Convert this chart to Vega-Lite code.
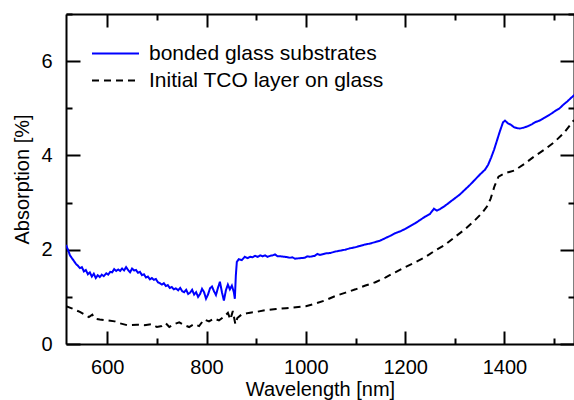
{
  "$schema": "https://vega.github.io/schema/vega-lite/v6.json",
  "width": 508,
  "height": 330,
  "autosize": {"type": "none"},
  "padding": {"left": 66, "top": 14, "right": 0, "bottom": 56},
  "background": "white",
  "config": {
    "view": {"stroke": null},
    "font": "Liberation Sans",
    "axis": {
      "grid": false,
      "domainColor": "black",
      "domainWidth": 2,
      "tickColor": "black",
      "tickWidth": 2,
      "labelFont": "Liberation Sans",
      "labelFontSize": 20,
      "labelColor": "black",
      "titleFont": "Liberation Sans",
      "titleFontSize": 20,
      "titleFontWeight": "normal",
      "titleColor": "black"
    }
  },
  "data": {
    "values": [
      {"nm": 517, "a": 2.10, "s": "bonded"}, {"nm": 521, "a": 2.00, "s": "bonded"}, {"nm": 525, "a": 1.88, "s": "bonded"}, {"nm": 529, "a": 1.82, "s": "bonded"}, {"nm": 533, "a": 1.76, "s": "bonded"}, {"nm": 537, "a": 1.70, "s": "bonded"}, {"nm": 541, "a": 1.66, "s": "bonded"}, {"nm": 545, "a": 1.61, "s": "bonded"}, {"nm": 549, "a": 1.63, "s": "bonded"}, {"nm": 553, "a": 1.54, "s": "bonded"}, {"nm": 557, "a": 1.57, "s": "bonded"}, {"nm": 561, "a": 1.48, "s": "bonded"}, {"nm": 565, "a": 1.52, "s": "bonded"}, {"nm": 569, "a": 1.43, "s": "bonded"}, {"nm": 573, "a": 1.49, "s": "bonded"}, {"nm": 577, "a": 1.40, "s": "bonded"}, {"nm": 581, "a": 1.46, "s": "bonded"}, {"nm": 585, "a": 1.42, "s": "bonded"}, {"nm": 589, "a": 1.47, "s": "bonded"}, {"nm": 593, "a": 1.44, "s": "bonded"}, {"nm": 598, "a": 1.50, "s": "bonded"}, {"nm": 602, "a": 1.47, "s": "bonded"}, {"nm": 606, "a": 1.53, "s": "bonded"}, {"nm": 610, "a": 1.52, "s": "bonded"}, {"nm": 614, "a": 1.59, "s": "bonded"}, {"nm": 618, "a": 1.55, "s": "bonded"}, {"nm": 622, "a": 1.58, "s": "bonded"}, {"nm": 626, "a": 1.55, "s": "bonded"}, {"nm": 630, "a": 1.60, "s": "bonded"}, {"nm": 634, "a": 1.56, "s": "bonded"}, {"nm": 638, "a": 1.63, "s": "bonded"}, {"nm": 642, "a": 1.57, "s": "bonded"}, {"nm": 646, "a": 1.52, "s": "bonded"}, {"nm": 650, "a": 1.60, "s": "bonded"}, {"nm": 654, "a": 1.56, "s": "bonded"}, {"nm": 658, "a": 1.57, "s": "bonded"}, {"nm": 662, "a": 1.51, "s": "bonded"}, {"nm": 666, "a": 1.53, "s": "bonded"}, {"nm": 670, "a": 1.46, "s": "bonded"}, {"nm": 674, "a": 1.48, "s": "bonded"}, {"nm": 678, "a": 1.41, "s": "bonded"}, {"nm": 682, "a": 1.43, "s": "bonded"}, {"nm": 686, "a": 1.37, "s": "bonded"}, {"nm": 690, "a": 1.40, "s": "bonded"}, {"nm": 694, "a": 1.36, "s": "bonded"}, {"nm": 698, "a": 1.38, "s": "bonded"}, {"nm": 702, "a": 1.31, "s": "bonded"}, {"nm": 706, "a": 1.29, "s": "bonded"}, {"nm": 710, "a": 1.26, "s": "bonded"}, {"nm": 714, "a": 1.29, "s": "bonded"}, {"nm": 718, "a": 1.23, "s": "bonded"}, {"nm": 722, "a": 1.25, "s": "bonded"}, {"nm": 726, "a": 1.19, "s": "bonded"}, {"nm": 730, "a": 1.21, "s": "bonded"}, {"nm": 734, "a": 1.16, "s": "bonded"}, {"nm": 738, "a": 1.18, "s": "bonded"}, {"nm": 743, "a": 1.14, "s": "bonded"}, {"nm": 747, "a": 1.19, "s": "bonded"}, {"nm": 751, "a": 1.12, "s": "bonded"}, {"nm": 755, "a": 1.10, "s": "bonded"}, {"nm": 759, "a": 1.15, "s": "bonded"}, {"nm": 763, "a": 1.06, "s": "bonded"}, {"nm": 767, "a": 1.09, "s": "bonded"}, {"nm": 771, "a": 1.15, "s": "bonded"}, {"nm": 775, "a": 1.05, "s": "bonded"}, {"nm": 779, "a": 1.10, "s": "bonded"}, {"nm": 783, "a": 1.00, "s": "bonded"}, {"nm": 787, "a": 1.06, "s": "bonded"}, {"nm": 791, "a": 1.17, "s": "bonded"}, {"nm": 795, "a": 1.10, "s": "bonded"}, {"nm": 799, "a": 0.96, "s": "bonded"}, {"nm": 803, "a": 1.05, "s": "bonded"}, {"nm": 807, "a": 1.18, "s": "bonded"}, {"nm": 811, "a": 1.22, "s": "bonded"}, {"nm": 815, "a": 1.12, "s": "bonded"}, {"nm": 819, "a": 1.04, "s": "bonded"}, {"nm": 823, "a": 1.19, "s": "bonded"}, {"nm": 827, "a": 1.32, "s": "bonded"}, {"nm": 831, "a": 1.10, "s": "bonded"}, {"nm": 835, "a": 0.92, "s": "bonded"}, {"nm": 839, "a": 1.14, "s": "bonded"}, {"nm": 843, "a": 1.26, "s": "bonded"}, {"nm": 847, "a": 1.16, "s": "bonded"}, {"nm": 851, "a": 1.24, "s": "bonded"}, {"nm": 855, "a": 1.10, "s": "bonded"}, {"nm": 857, "a": 0.96, "s": "bonded"}, {"nm": 859, "a": 1.45, "s": "bonded"}, {"nm": 861, "a": 1.74, "s": "bonded"}, {"nm": 865, "a": 1.80, "s": "bonded"}, {"nm": 871, "a": 1.78, "s": "bonded"}, {"nm": 877, "a": 1.85, "s": "bonded"}, {"nm": 883, "a": 1.82, "s": "bonded"}, {"nm": 888, "a": 1.85, "s": "bonded"}, {"nm": 893, "a": 1.84, "s": "bonded"}, {"nm": 898, "a": 1.87, "s": "bonded"}, {"nm": 903, "a": 1.85, "s": "bonded"}, {"nm": 908, "a": 1.88, "s": "bonded"}, {"nm": 913, "a": 1.86, "s": "bonded"}, {"nm": 918, "a": 1.88, "s": "bonded"}, {"nm": 923, "a": 1.85, "s": "bonded"}, {"nm": 928, "a": 1.87, "s": "bonded"}, {"nm": 933, "a": 1.88, "s": "bonded"}, {"nm": 938, "a": 1.90, "s": "bonded"}, {"nm": 943, "a": 1.86, "s": "bonded"}, {"nm": 948, "a": 1.86, "s": "bonded"}, {"nm": 958, "a": 1.85, "s": "bonded"}, {"nm": 968, "a": 1.83, "s": "bonded"}, {"nm": 973, "a": 1.84, "s": "bonded"}, {"nm": 978, "a": 1.81, "s": "bonded"}, {"nm": 988, "a": 1.82, "s": "bonded"}, {"nm": 998, "a": 1.83, "s": "bonded"}, {"nm": 1003, "a": 1.86, "s": "bonded"}, {"nm": 1008, "a": 1.85, "s": "bonded"}, {"nm": 1018, "a": 1.87, "s": "bonded"}, {"nm": 1023, "a": 1.91, "s": "bonded"}, {"nm": 1028, "a": 1.89, "s": "bonded"}, {"nm": 1039, "a": 1.92, "s": "bonded"}, {"nm": 1049, "a": 1.93, "s": "bonded"}, {"nm": 1059, "a": 1.96, "s": "bonded"}, {"nm": 1069, "a": 1.98, "s": "bonded"}, {"nm": 1079, "a": 2.00, "s": "bonded"}, {"nm": 1089, "a": 2.03, "s": "bonded"}, {"nm": 1099, "a": 2.05, "s": "bonded"}, {"nm": 1109, "a": 2.08, "s": "bonded"}, {"nm": 1119, "a": 2.11, "s": "bonded"}, {"nm": 1129, "a": 2.13, "s": "bonded"}, {"nm": 1139, "a": 2.16, "s": "bonded"}, {"nm": 1149, "a": 2.19, "s": "bonded"}, {"nm": 1159, "a": 2.24, "s": "bonded"}, {"nm": 1169, "a": 2.29, "s": "bonded"}, {"nm": 1180, "a": 2.35, "s": "bonded"}, {"nm": 1190, "a": 2.39, "s": "bonded"}, {"nm": 1200, "a": 2.44, "s": "bonded"}, {"nm": 1210, "a": 2.50, "s": "bonded"}, {"nm": 1220, "a": 2.56, "s": "bonded"}, {"nm": 1230, "a": 2.63, "s": "bonded"}, {"nm": 1240, "a": 2.70, "s": "bonded"}, {"nm": 1250, "a": 2.76, "s": "bonded"}, {"nm": 1258, "a": 2.87, "s": "bonded"}, {"nm": 1264, "a": 2.83, "s": "bonded"}, {"nm": 1270, "a": 2.86, "s": "bonded"}, {"nm": 1280, "a": 2.93, "s": "bonded"}, {"nm": 1290, "a": 3.01, "s": "bonded"}, {"nm": 1300, "a": 3.09, "s": "bonded"}, {"nm": 1310, "a": 3.17, "s": "bonded"}, {"nm": 1320, "a": 3.27, "s": "bonded"}, {"nm": 1331, "a": 3.38, "s": "bonded"}, {"nm": 1341, "a": 3.49, "s": "bonded"}, {"nm": 1351, "a": 3.60, "s": "bonded"}, {"nm": 1361, "a": 3.70, "s": "bonded"}, {"nm": 1367, "a": 3.80, "s": "bonded"}, {"nm": 1373, "a": 3.95, "s": "bonded"}, {"nm": 1379, "a": 4.12, "s": "bonded"}, {"nm": 1385, "a": 4.32, "s": "bonded"}, {"nm": 1391, "a": 4.52, "s": "bonded"}, {"nm": 1397, "a": 4.70, "s": "bonded"}, {"nm": 1401, "a": 4.74, "s": "bonded"}, {"nm": 1407, "a": 4.68, "s": "bonded"}, {"nm": 1413, "a": 4.65, "s": "bonded"}, {"nm": 1419, "a": 4.60, "s": "bonded"}, {"nm": 1425, "a": 4.58, "s": "bonded"}, {"nm": 1431, "a": 4.57, "s": "bonded"}, {"nm": 1439, "a": 4.59, "s": "bonded"}, {"nm": 1447, "a": 4.62, "s": "bonded"}, {"nm": 1455, "a": 4.66, "s": "bonded"}, {"nm": 1463, "a": 4.71, "s": "bonded"}, {"nm": 1471, "a": 4.74, "s": "bonded"}, {"nm": 1479, "a": 4.79, "s": "bonded"}, {"nm": 1487, "a": 4.84, "s": "bonded"}, {"nm": 1495, "a": 4.89, "s": "bonded"}, {"nm": 1503, "a": 4.95, "s": "bonded"}, {"nm": 1511, "a": 5.00, "s": "bonded"}, {"nm": 1519, "a": 5.08, "s": "bonded"}, {"nm": 1527, "a": 5.15, "s": "bonded"}, {"nm": 1535, "a": 5.23, "s": "bonded"}, {"nm": 1543, "a": 5.30, "s": "bonded"},
      {"nm": 517, "a": 0.80, "s": "TCO"}, {"nm": 530, "a": 0.75, "s": "TCO"}, {"nm": 545, "a": 0.68, "s": "TCO"}, {"nm": 555, "a": 0.62, "s": "TCO"}, {"nm": 563, "a": 0.57, "s": "TCO"}, {"nm": 570, "a": 0.62, "s": "TCO"}, {"nm": 575, "a": 0.54, "s": "TCO"}, {"nm": 585, "a": 0.52, "s": "TCO"}, {"nm": 600, "a": 0.50, "s": "TCO"}, {"nm": 615, "a": 0.48, "s": "TCO"}, {"nm": 625, "a": 0.44, "s": "TCO"}, {"nm": 640, "a": 0.40, "s": "TCO"}, {"nm": 660, "a": 0.41, "s": "TCO"}, {"nm": 675, "a": 0.40, "s": "TCO"}, {"nm": 690, "a": 0.42, "s": "TCO"}, {"nm": 700, "a": 0.36, "s": "TCO"}, {"nm": 710, "a": 0.38, "s": "TCO"}, {"nm": 718, "a": 0.44, "s": "TCO"}, {"nm": 725, "a": 0.36, "s": "TCO"}, {"nm": 735, "a": 0.42, "s": "TCO"}, {"nm": 745, "a": 0.46, "s": "TCO"}, {"nm": 755, "a": 0.40, "s": "TCO"}, {"nm": 765, "a": 0.36, "s": "TCO"}, {"nm": 775, "a": 0.42, "s": "TCO"}, {"nm": 785, "a": 0.38, "s": "TCO"}, {"nm": 795, "a": 0.52, "s": "TCO"}, {"nm": 805, "a": 0.48, "s": "TCO"}, {"nm": 815, "a": 0.54, "s": "TCO"}, {"nm": 825, "a": 0.50, "s": "TCO"}, {"nm": 835, "a": 0.58, "s": "TCO"}, {"nm": 843, "a": 0.66, "s": "TCO"}, {"nm": 848, "a": 0.52, "s": "TCO"}, {"nm": 853, "a": 0.70, "s": "TCO"}, {"nm": 858, "a": 0.42, "s": "TCO"}, {"nm": 862, "a": 0.55, "s": "TCO"}, {"nm": 870, "a": 0.62, "s": "TCO"}, {"nm": 885, "a": 0.66, "s": "TCO"}, {"nm": 900, "a": 0.68, "s": "TCO"}, {"nm": 920, "a": 0.72, "s": "TCO"}, {"nm": 940, "a": 0.74, "s": "TCO"}, {"nm": 960, "a": 0.76, "s": "TCO"}, {"nm": 980, "a": 0.78, "s": "TCO"}, {"nm": 1000, "a": 0.80, "s": "TCO"}, {"nm": 1020, "a": 0.86, "s": "TCO"}, {"nm": 1040, "a": 0.93, "s": "TCO"}, {"nm": 1060, "a": 1.02, "s": "TCO"}, {"nm": 1080, "a": 1.09, "s": "TCO"}, {"nm": 1100, "a": 1.16, "s": "TCO"}, {"nm": 1120, "a": 1.24, "s": "TCO"}, {"nm": 1140, "a": 1.31, "s": "TCO"}, {"nm": 1160, "a": 1.41, "s": "TCO"}, {"nm": 1180, "a": 1.52, "s": "TCO"}, {"nm": 1200, "a": 1.63, "s": "TCO"}, {"nm": 1220, "a": 1.73, "s": "TCO"}, {"nm": 1240, "a": 1.84, "s": "TCO"}, {"nm": 1260, "a": 1.98, "s": "TCO"}, {"nm": 1280, "a": 2.10, "s": "TCO"}, {"nm": 1300, "a": 2.27, "s": "TCO"}, {"nm": 1320, "a": 2.43, "s": "TCO"}, {"nm": 1340, "a": 2.62, "s": "TCO"}, {"nm": 1355, "a": 2.78, "s": "TCO"}, {"nm": 1365, "a": 2.92, "s": "TCO"}, {"nm": 1372, "a": 3.08, "s": "TCO"}, {"nm": 1380, "a": 3.35, "s": "TCO"}, {"nm": 1388, "a": 3.55, "s": "TCO"}, {"nm": 1400, "a": 3.62, "s": "TCO"}, {"nm": 1420, "a": 3.68, "s": "TCO"}, {"nm": 1440, "a": 3.82, "s": "TCO"}, {"nm": 1460, "a": 3.98, "s": "TCO"}, {"nm": 1480, "a": 4.12, "s": "TCO"}, {"nm": 1500, "a": 4.28, "s": "TCO"}, {"nm": 1520, "a": 4.48, "s": "TCO"}, {"nm": 1540, "a": 4.75, "s": "TCO"}
    ]
  },
  "resolve": {"axis": {"x": "independent", "y": "independent"}},
  "layer": [
    {
      "mark": {"type": "line", "strokeWidth": 2, "clip": true},
      "encoding": {
        "x": {
          "field": "nm", "type": "quantitative",
          "scale": {"domain": [517, 1540], "nice": false, "zero": false},
          "axis": {
            "orient": "bottom",
            "title": "Wavelength [nm]",
            "format": "d",
            "values": [600, 700, 800, 900, 1000, 1100, 1200, 1300, 1400, 1500],
            "tickSize": {"condition": {"test": "datum.value % 200 === 0", "value": -13}, "value": -6},
            "labelExpr": "datum.value % 200 === 0 ? datum.label : ''",
            "labelPadding": 26,
            "titlePadding": 2,
            "labelFlush": false
          }
        },
        "y": {
          "field": "a", "type": "quantitative",
          "scale": {"domain": [0, 7], "nice": false},
          "axis": {
            "orient": "left",
            "title": "Absorption [%]",
            "values": [0, 1, 2, 3, 4, 5, 6, 7],
            "tickSize": {"condition": {"test": "datum.value % 2 === 0", "value": -14}, "value": -6},
            "labelExpr": "datum.value % 2 === 0 ? datum.label : ''",
            "labelPadding": 28,
            "titlePadding": 8,
            "labelFlush": false
          }
        },
        "color": {
          "field": "s", "type": "nominal",
          "scale": {"domain": ["bonded", "TCO"], "range": ["#0000ff", "#000000"]},
          "legend": {
            "orient": "none",
            "legendX": 39,
            "legendY": 29,
            "title": null,
            "padding": 0,
            "symbolType": "M-4.7,0H4.7",
            "symbolSize": 100,
            "symbolStrokeWidth": 2,
            "labelFontSize": 21,
            "labelFont": "Liberation Sans",
            "labelColor": "black",
            "labelOffset": 23,
            "labelLimit": 400,
            "rowPadding": 5,
            "labelExpr": "datum.label === 'bonded' ? 'bonded glass substrates' : 'Initial TCO layer on glass'"
          }
        },
        "strokeDash": {
          "field": "s", "type": "nominal",
          "scale": {"domain": ["bonded", "TCO"], "range": [[1, 0], [7, 5]]},
          "legend": {
            "orient": "none",
            "legendX": 39,
            "legendY": 29,
            "title": null,
            "padding": 0,
            "symbolType": "M-4.7,0H4.7",
            "symbolSize": 100,
            "symbolStrokeWidth": 2,
            "labelFontSize": 21,
            "labelFont": "Liberation Sans",
            "labelColor": "black",
            "labelOffset": 23,
            "labelLimit": 400,
            "rowPadding": 5,
            "labelExpr": "datum.label === 'bonded' ? 'bonded glass substrates' : 'Initial TCO layer on glass'"
          }
        }
      }
    },
    {
      "mark": {"type": "line", "opacity": 0},
      "encoding": {
        "x": {
          "field": "nm", "type": "quantitative",
          "axis": {
            "orient": "top",
            "title": null,
            "labels": false,
            "values": [600, 700, 800, 900, 1000, 1100, 1200, 1300, 1400, 1500],
            "tickSize": {"condition": {"test": "datum.value % 200 === 0", "value": -13}, "value": -6}
          }
        },
        "y": {
          "field": "a", "type": "quantitative",
          "axis": {
            "orient": "right",
            "title": null,
            "labels": false,
            "values": [0, 1, 2, 3, 4, 5, 6, 7],
            "tickSize": {"condition": {"test": "datum.value % 2 === 0", "value": -14}, "value": -6}
          }
        },
        "detail": {"field": "s", "type": "nominal"}
      }
    }
  ]
}
